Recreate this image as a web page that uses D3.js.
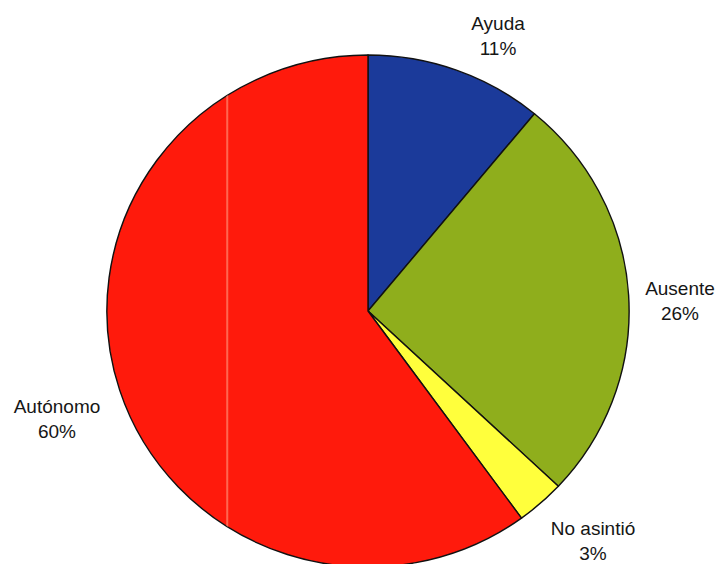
<!DOCTYPE html>
<html>
<head>
<meta charset="utf-8">
<script src="https://cdn.jsdelivr.net/npm/d3@7"></script>
<style>
  html, body { margin: 0; padding: 0; background: #fff; }
  svg { display: block; }
  text { font-family: "Liberation Sans", Arial, sans-serif; font-size: 19px; fill: #161616; }
</style>
</head>
<body>
<svg id="chart" width="720" height="564"></svg>
<script>
// Responses by category (percent)
const categories = ["Ayuda", "Ausente", "No asintió", "Autónomo"];
const values = [11, 26, 3, 60];
const colors = ["#1b3a9a", "#8fae1c", "#ffff3c", "#ff1a0c"];
// Label anchor positions (label centre, first line baseline)
const labelPos = [[498, 30], [680, 295], [593, 535], [57, 413]];

const width = 720, height = 564;
const cx = 368, cy = 311, r = 256;

const svg = d3.select("#chart");

const pie = d3.pie().sort(null).value(d => d);
const arc = d3.arc().innerRadius(0).outerRadius(r);

const g = svg.append("g")
  .attr("transform", `translate(${cx},${cy}) scale(1.02,1)`);

g.selectAll("path.slice")
  .data(pie(values))
  .join("path")
  .attr("class", "slice")
  .attr("d", arc)
  .attr("fill", (d, i) => colors[i])
  .attr("stroke", "#111")
  .attr("stroke-width", 1.4)
  .attr("stroke-linejoin", "round");

// faint light streak across the large slice
const clip = svg.append("defs").append("clipPath").attr("id", "pieClip");
clip.append("circle").attr("r", r);
g.append("line")
  .attr("clip-path", "url(#pieClip)")
  .attr("x1", -138).attr("x2", -138)
  .attr("y1", -r).attr("y2", r)
  .attr("stroke", "#ff9a80")
  .attr("stroke-width", 2)
  .attr("opacity", 0.6);

const labels = svg.append("g");
categories.forEach((c, i) => {
  const t = labels.append("text")
    .attr("x", labelPos[i][0])
    .attr("y", labelPos[i][1])
    .attr("text-anchor", "middle");
  t.append("tspan").attr("x", labelPos[i][0]).text(c);
  t.append("tspan").attr("x", labelPos[i][0]).attr("dy", 25).text(values[i] + "%");
});
</script>
</body>
</html>
